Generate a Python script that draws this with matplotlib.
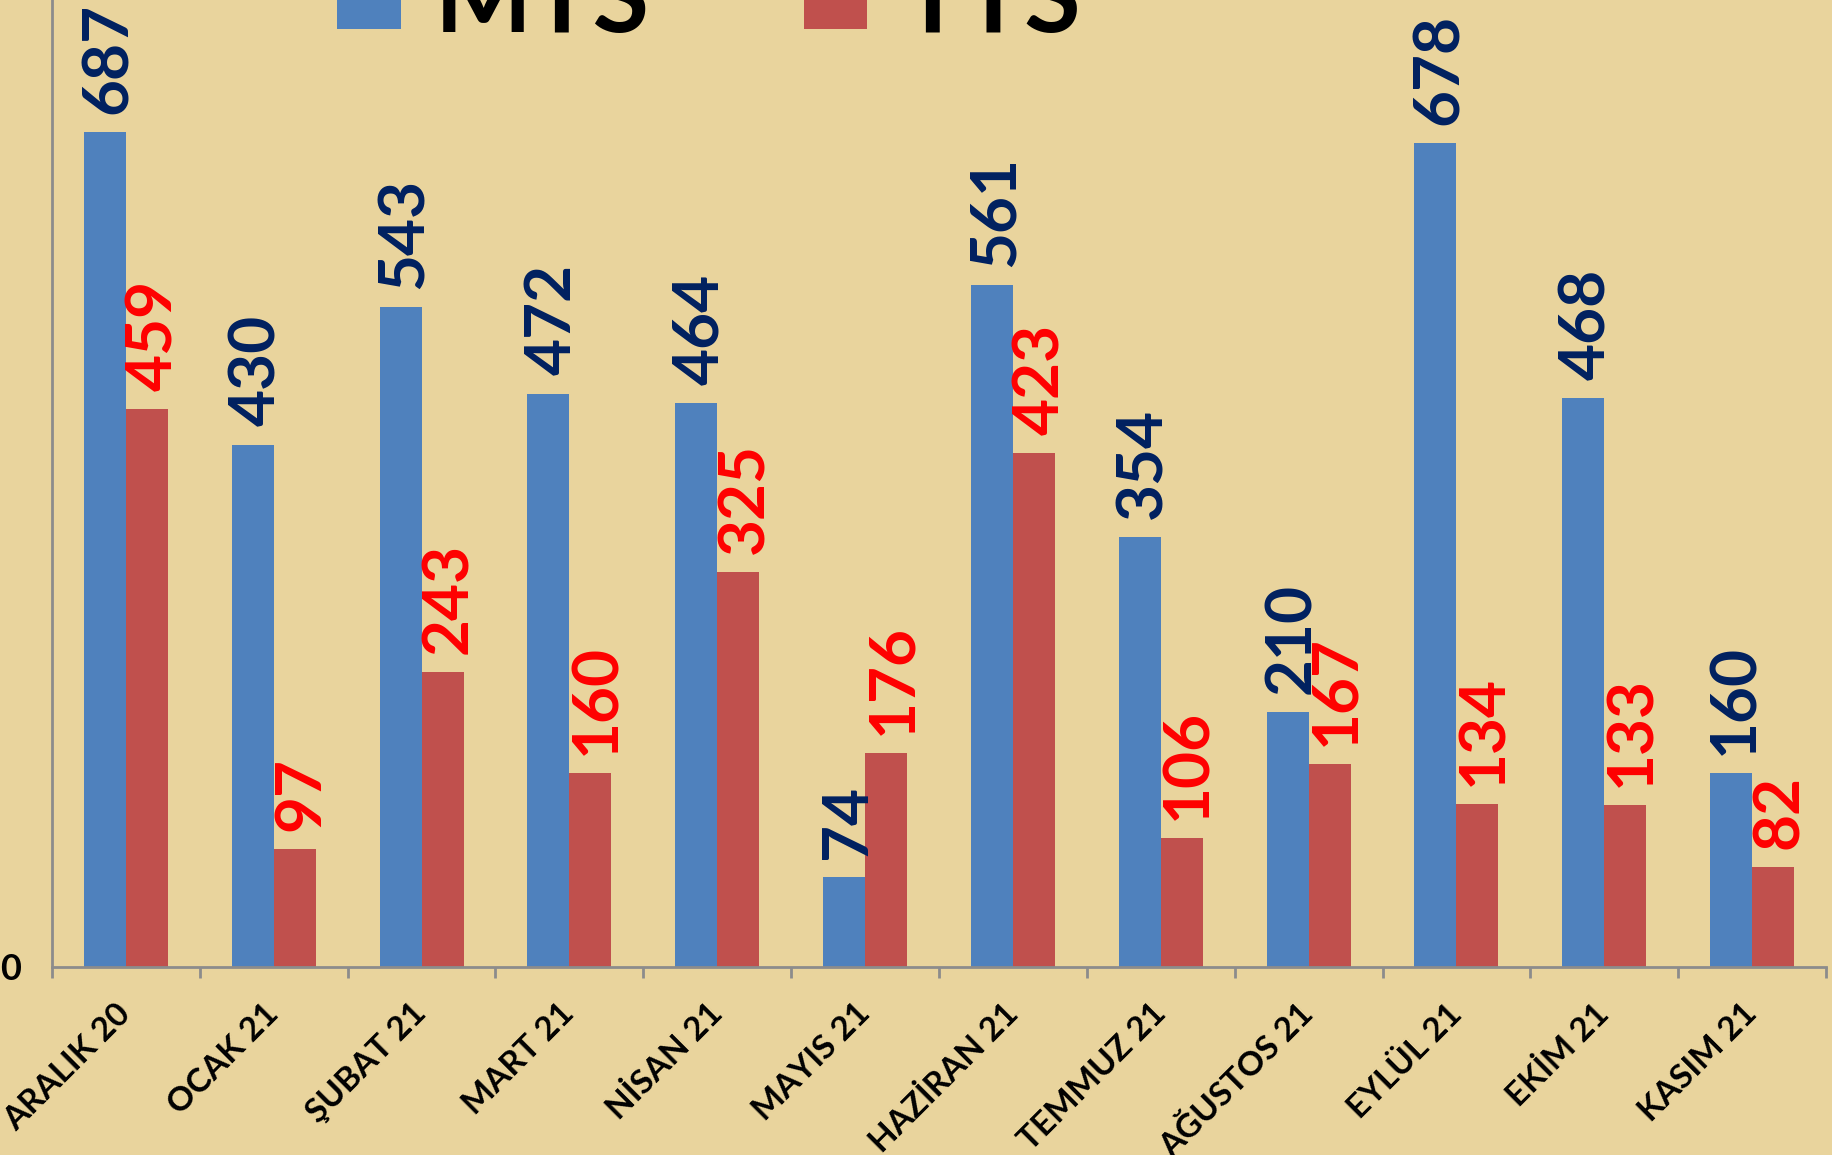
import matplotlib.pyplot as plt
import numpy as np

months = ["ARALIK 20", "OCAK 21", "ŞUBAT 21", "MART 21", "NİSAN 21", "MAYIS 21",
          "HAZİRAN 21", "TEMMUZ 21", "AĞUSTOS 21", "EYLÜL 21", "EKİM 21", "KASIM 21"]
mts = [687, 430, 543, 472, 464, 74, 561, 354, 210, 678, 468, 160]
tts = [459, 97, 243, 160, 325, 176, 423, 106, 167, 134, 133, 82]

plt.rcParams['font.family'] = ['Lato', 'DejaVu Sans']
plt.rcParams['font.weight'] = 'bold'

bg = "#E9D49D"
fig = plt.figure(figsize=(18.33, 11.55), dpi=100, facecolor=bg)
W, H = 1833, 1155
# axes: left spine at x=52, baseline at y=967, top just above the picture
ax = fig.add_axes([52 / W, (H - 967) / H, (1826 - 52) / W, 972 / H])
ax.set_facecolor(bg)

x = np.arange(len(months))
w = 0.284
b1 = ax.bar(x - w / 2, mts, w, color="#4F81BD", label="MTS")
b2 = ax.bar(x + w / 2, tts, w, color="#C0504D", label="TTS")

for i in range(len(months)):
    ax.annotate(str(mts[i]), (x[i] - w / 2, mts[i]), xytext=(-1, 13), textcoords="offset points",
                rotation=90, rotation_mode="anchor", ha="left", va="center_baseline",
                fontsize=46, fontweight="bold", color="#002060")
    ax.annotate(str(tts[i]), (x[i] + w / 2, tts[i]), xytext=(1, 13), textcoords="offset points",
                rotation=90, rotation_mode="anchor", ha="left", va="center_baseline",
                fontsize=46, fontweight="bold", color="#FF0000")

ax.set_xlim(-0.5, len(months) - 0.5)
ax.set_ylim(0, 800)

ax.set_xticks(np.arange(-0.5, len(months), 1.0))
ax.set_xticklabels([])
ax.set_xticks(x, minor=True)
ax.set_xticklabels(months, minor=True, rotation=45, ha="right", va="center",
                   rotation_mode="anchor", fontsize=24, fontweight="bold")
ax.tick_params(axis="x", which="major", length=8, width=2, color="#8C8C8C", direction="out")
ax.tick_params(axis="x", which="minor", length=0, pad=30)

ax.set_yticks([0])
ax.set_yticklabels(["0"], fontsize=26, fontweight="bold")
ax.tick_params(axis="y", length=0, pad=22)

for s in ["top", "right"]:
    ax.spines[s].set_visible(False)
for s in ["left", "bottom"]:
    ax.spines[s].set_color("#8C8C8C")
    ax.spines[s].set_linewidth(2)

fig.legend(handles=[b1, b2], loc="center", bbox_to_anchor=(709 / W, 0.998), ncol=2,
           frameon=False, handlelength=0.62, handleheight=0.62,
           handletextpad=0.33, columnspacing=1.5, prop={"weight": "bold", "size": 74})

fig.savefig("out.png", dpi=100, facecolor=bg)
